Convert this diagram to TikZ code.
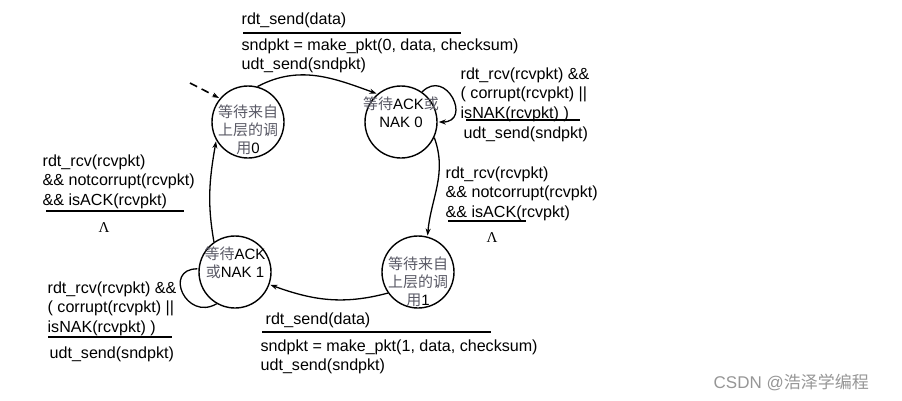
\documentclass[tikz,border=0pt]{standalone}
\usepackage{fontspec}
\setmainfont{Liberation Sans}
\newfontfamily\cjk{Noto Sans CJK SC}
\newfontfamily\lamfont{Liberation Serif}
\usepackage{tikz}
\usetikzlibrary{automata,positioning,arrows.meta}

\definecolor{zhgray}{RGB}{90,90,102}
\definecolor{markgray}{RGB}{150,150,150}
\newcommand{\zh}[1]{{\cjk\color{zhgray}#1}}

\tikzset{
  every state/.style={draw=black,line width=1.4pt,minimum size=72pt,inner sep=0pt},
  statetext/.style={align=center,inner sep=0pt,font=\fontsize{15}{18}\selectfont},
  lbl/.style={align=left,inner sep=0pt,anchor=north west,font=\fontsize{16.1}{19.5}\selectfont},
  lam/.style={inner sep=0pt,font=\lamfont\fontsize{15}{15}\selectfont},
  bar/.style={line width=2.6pt}
}

\begin{document}
\begin{tikzpicture}[x=1pt,y=1pt,shorten >=1pt,node distance=2cm,on grid,auto,
    >={Stealth[length=7pt,width=5pt]},line width=1.3pt]
     \useasboundingbox (0,0) rectangle (902,-400);
     % states
     \node[state,label={[statetext,yshift=-8pt]center:\zh{等待来自}\\\zh{上层的调}\\\zh{用}0}] (s_0) at (248,-122) {};
     \node[state,label={[statetext,yshift=10pt]center:\zh{等待}ACK\zh{或}\\NAK 0}] (s_1) [right=153pt of s_0] {};
     \node[state,label={[statetext,yshift=-10pt]center:\zh{等待来自}\\\zh{上层的调}\\\zh{用}1}] (s_2) [below right=150pt and 17pt of s_1] {};
     \node[state,label={[statetext,yshift=9pt]center:\zh{等待}ACK\\\zh{或}NAK 1}] (s_3) [left=183pt of s_2] {};
     \coordinate (start) at (190,-83);
     \draw[->,dashed,dash pattern=on 8pt off 5pt,line width=1.6pt] (start) -- (s_0.140);
      \path[->]
      (s_0.75) edge [out=28,in=160] (s_1.130)
      (s_1.55) edge [out=45,in=0,looseness=2.6] (s_1.0)
      (s_1.-25) edge [out=-70,in=85] (s_2.75)
      (s_2.215) edge [out=195,in=-20] (s_3.-20)
      (s_3.125) edge [out=100,in=-100] (s_0.210)
      (s_3.-120) edge [-,out=-150,in=180,looseness=2.3] (s_3.175);
     % transition labels
     \node[lbl] (g01) at (241,-12) {rdt\_send(data)};
     \draw[bar] (243,-33) -- (462,-33);
     \node[lbl] (a01) at (241,-38) {sndpkt = make\_pkt(0, data, checksum)\\udt\_send(sndpkt)};
     \node[lbl] (g11) at (460,-67) {rdt\_rcv(rcvpkt) \&\&\\( corrupt(rcvpkt) ||\\isNAK(rcvpkt) )};
     \draw[bar] (466,-120) -- (581,-120);
     \node[lbl] (a11) at (463,-126) {udt\_send(sndpkt)};
     \node[lbl] (g12) at (445,-166) {rdt\_rcv(rcvpkt)\\\&\& notcorrupt(rcvpkt)\\\&\& isACK(rcvpkt)};
     \draw[bar] (448,-221) -- (527,-221);
     \node[lam] (a12) at (492,-238) {Λ};
     \node[lbl] (g23) at (265,-312) {rdt\_send(data)};
     \draw[bar] (262,-332) -- (492,-332);
     \node[lbl] (a23) at (260,-339) {sndpkt = make\_pkt(1, data, checksum)\\udt\_send(sndpkt)};
     \node[lbl] (g33) at (47,-281) {rdt\_rcv(rcvpkt) \&\&\\( corrupt(rcvpkt) ||\\isNAK(rcvpkt) )};
     \draw[bar] (48,-337) -- (173,-337);
     \node[lbl] (a33) at (49,-346) {udt\_send(sndpkt)};
     \node[lbl] (g30) at (42,-154) {rdt\_rcv(rcvpkt)\\\&\& notcorrupt(rcvpkt)\\\&\& isACK(rcvpkt)};
     \draw[bar] (46,-211) -- (185,-211);
     \node[lam] (a30) at (104,-228) {Λ};
     \node[anchor=west,inner sep=0pt,text=markgray,font=\fontsize{17}{17}\selectfont] (mark) at (713,-382) {CSDN @{\cjk 浩泽学编程}};
    \end{tikzpicture}
\end{document}
